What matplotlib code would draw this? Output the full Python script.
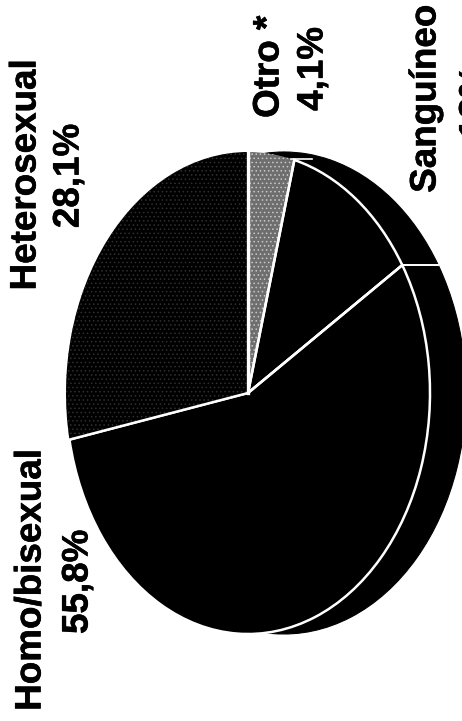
import numpy as np
import matplotlib
matplotlib.use("Agg")
import matplotlib.pyplot as plt
import matplotlib.patheffects as pe

categories = ["Otro *", "Sanguíneo", "Homo/bisexual", "Heterosexual"]
values = [4.1, 12.0, 55.8, 28.1]
value_labels = ["4,1%", "12%", "55,8%", "28,1%"]

W, H = 462, 721
CX, CY = 248, 393      # pie centre, px
RX, RY = 182, 241      # semi-axes, px
DEPTH = 36             # extrusion, px
plt.rcParams["font.family"] = ["Liberation Sans", "DejaVu Sans"]
plt.rcParams["hatch.linewidth"] = 0.6

fig = plt.figure(figsize=(W / 100, H / 100), dpi=100, facecolor="white")
ax = fig.add_axes([0, 0, 1, 1])

# extruded side
side, _ = ax.pie(values, startangle=90, counterclock=False,
                 center=(DEPTH / RX, 0), colors=["black"] * 4,
                 wedgeprops=dict(linewidth=0.8, edgecolor="black"))
# top face
top, _ = ax.pie(values, startangle=90, counterclock=False,
                colors=["#6e6e6e", "black", "black", "black"],
                wedgeprops=dict(edgecolor="white", linewidth=1.8))
top[0].set_hatch("....")
top[0].set_edgecolor("#c8c8c8")
top[0].set_linewidth(0)
# stipple on Heterosexual, without a white outline
top[3].set_edgecolor("#303030")
top[3].set_linewidth(0)
top[3].set_hatch("....")

ax.set_aspect("auto")
ax.set_xlim(-CX / RX, (W - CX) / RX)
ax.set_ylim(-(H - CY) / RY, CY / RY)
ax.axis("off")

# white seams: the radii shared by the slices, and the side edge
cum = np.cumsum(values)
a1 = np.deg2rad(90 - cum[0] / sum(values) * 360)
a2 = np.deg2rad(90 - cum[1] / sum(values) * 360)
a3 = np.deg2rad(90 - cum[2] / sum(values) * 360)
for a in (a1, a2, a3):
    ax.plot([0, np.cos(a)], [0, np.sin(a)], color="white", lw=1.8, zorder=5)
ax.plot([0, 0], [0, 1], color="white", lw=2.4, zorder=5)
ax.plot([np.cos(a2), np.cos(a2) + DEPTH / RX], [np.sin(a2)] * 2, color="white", lw=1.4, zorder=5)
ax.plot([np.cos(a1) - 0.02, np.cos(a1) + DEPTH / RX * 0.5], [np.sin(a1) + 0.002] * 2,
        color="white", lw=1.2, zorder=5)

def label(s, x, y):
    fig.text(x / W, 1 - y / H, s, rotation=90, ha="center", va="center",
             fontsize=26.5, fontweight="bold", color="black",
             path_effects=[pe.withStroke(linewidth=0.4, foreground="black")])

label(categories[3], 26, 175)
label(value_labels[3], 69, 176)
label(categories[0], 269, 67)
label(value_labels[0], 313, 69)
label(categories[1], 426, 99)
label(value_labels[1], 475, 102)
label(categories[2], 31, 580)
label(value_labels[2], 78, 582)

fig.savefig("out.png", dpi=100, facecolor="white")
